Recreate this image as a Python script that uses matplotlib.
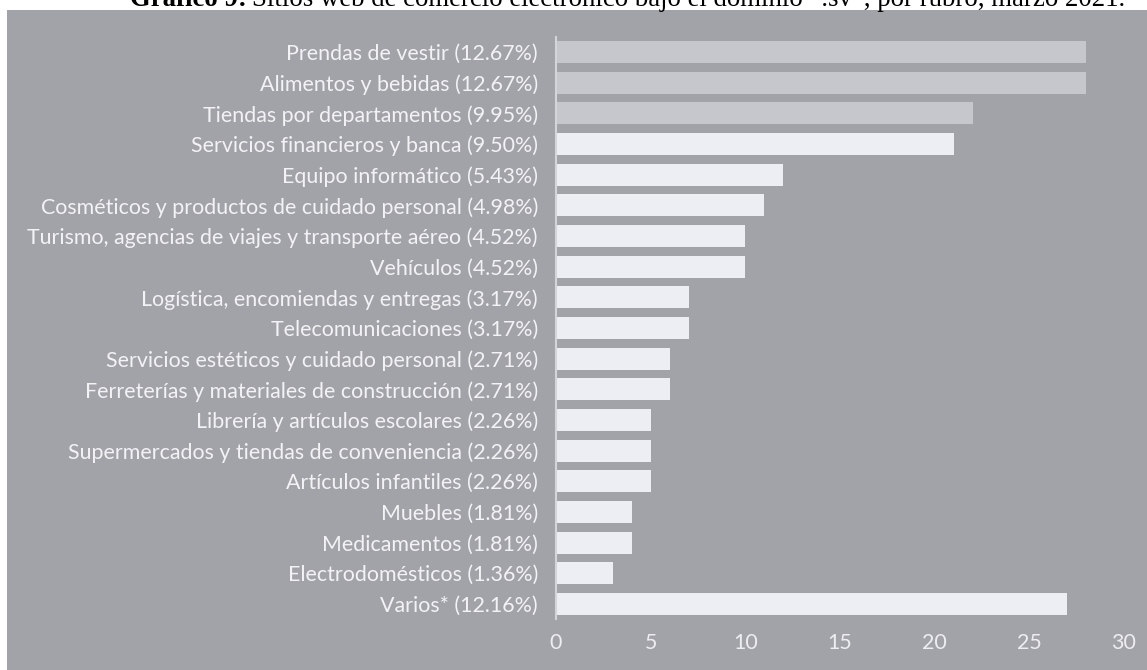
import matplotlib.pyplot as plt
from matplotlib.patches import Rectangle

categorias = [
    "Prendas de vestir (12.67%)",
    "Alimentos y bebidas (12.67%)",
    "Tiendas por departamentos (9.95%)",
    "Servicios financieros y banca (9.50%)",
    "Equipo informático (5.43%)",
    "Cosméticos y productos de cuidado personal (4.98%)",
    "Turismo, agencias de viajes y transporte aéreo (4.52%)",
    "Vehículos (4.52%)",
    "Logística, encomiendas y entregas (3.17%)",
    "Telecomunicaciones (3.17%)",
    "Servicios estéticos y cuidado personal (2.71%)",
    "Ferreterías y materiales de construcción (2.71%)",
    "Librería y artículos escolares (2.26%)",
    "Supermercados y tiendas de conveniencia (2.26%)",
    "Artículos infantiles (2.26%)",
    "Muebles (1.81%)",
    "Medicamentos (1.81%)",
    "Electrodomésticos (1.36%)",
    "Varios* (12.16%)",
]
sitios = [28, 28, 22, 21, 12, 11, 10, 10, 7, 7, 6, 6, 5, 5, 5, 4, 4, 3, 27]
destacados = 3  # first three bars drawn in a darker tone
xticks = [0, 5, 10, 15, 20, 25, 30]

W, H = 1147, 670
fig = plt.figure(figsize=(W / 100, H / 100), dpi=100)
fig.patch.set_facecolor("white")

# grey chart panel from the scan
fig.patches.append(Rectangle((7 / W, 0), 1 - 7 / W, (H - 10) / H,
                             transform=fig.transFigure, facecolor="#a2a3a9",
                             edgecolor="none", zorder=-1))

ax = fig.add_axes([556 / W, (H - 619.3) / H, (1124 - 556) / W, (619.3 - 36.7) / H])
ax.set_facecolor("none")

colores = ["#c6c7cd" if i < destacados else "#eceef3" for i in range(len(sitios))]
y = range(len(categorias))
ax.barh(y, sitios, height=0.72, color=colores, zorder=2)

ax.set_ylim(len(categorias) - 0.5, -0.5)
ax.set_xlim(0, 30)
ax.set_yticks(list(y))
ax.set_yticklabels(categorias)
ax.set_xticks(xticks)

for s in ["top", "right", "bottom"]:
    ax.spines[s].set_visible(False)
ax.spines["left"].set_color("#d4d5da")
ax.spines["left"].set_linewidth(1.5)
ax.spines["left"].set_zorder(3)

ax.tick_params(axis="y", length=0, pad=13, labelsize=15.4, labelcolor="#f3f3f5")
ax.tick_params(axis="x", length=0, pad=10, labelsize=15.4, labelcolor="#eeeef1")
for lbl in ax.get_yticklabels() + ax.get_xticklabels():
    lbl.set_fontfamily("Lato")

# title, cut at the top like the scan
t1 = fig.text(130 / W, (H - 6) / H, "Gráfico 9:", fontfamily="Liberation Serif",
              fontweight="bold", fontsize=19.3, va="baseline", ha="left")
fig.canvas.draw()
bb = t1.get_window_extent()
fig.text((bb.x1 + 5) / W, (H - 6) / H,
         "Sitios web de comercio electrónico bajo el dominio “.sv”, por rubro, marzo 2021.",
         fontfamily="Liberation Serif", fontsize=19.3, va="baseline", ha="left")

fig.savefig("out.png", dpi=100)
